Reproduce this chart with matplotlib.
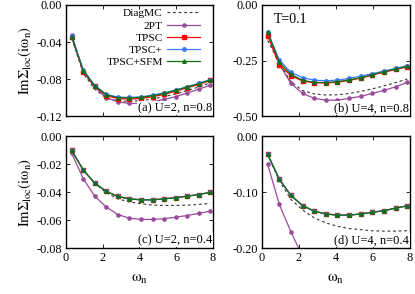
import numpy as np
import matplotlib
matplotlib.use("Agg")
import matplotlib.pyplot as plt

plt.rcParams['font.family'] = ['Liberation Serif', 'DejaVu Serif']
plt.rcParams['mathtext.fontset'] = 'stix'
plt.rcParams['font.size'] = 8.8

# Matsubara frequencies, T=0.1
T = 0.1
wn = [(2 * n + 1) * np.pi * T for n in range(13)]

# panel (a) U=2, n=0.8
a_dmc = [-0.036, -0.074, -0.091, -0.1005, -0.1035, -0.104, -0.1035, -0.1015, -0.099, -0.096, -0.0925, -0.0885, -0.084]
a_2pt = [-0.032, -0.072, -0.089, -0.100, -0.1045, -0.1063, -0.1063, -0.1045, -0.102, -0.099, -0.095, -0.091, -0.0865]
a_tpsc = [-0.035, -0.072, -0.088, -0.098, -0.101, -0.1016, -0.101, -0.099, -0.0966, -0.093, -0.0894, -0.0858, -0.0815]
a_tpscp = [-0.034, -0.070, -0.087, -0.0965, -0.0995, -0.0998, -0.0992, -0.0973, -0.095, -0.0918, -0.0882, -0.0846, -0.0805]
a_sfm = [-0.0345, -0.071, -0.0875, -0.097, -0.1, -0.1004, -0.0998, -0.0978, -0.0955, -0.0922, -0.0886, -0.085, -0.081]

# panel (b) U=4, n=0.8
b_dmc = [-0.16, -0.263, -0.345, -0.385, -0.400, -0.405, -0.404, -0.398, -0.389, -0.377, -0.364, -0.349, -0.333]
b_2pt = [-0.132, -0.267, -0.353, -0.398, -0.42, -0.428, -0.428, -0.42, -0.411, -0.398, -0.384, -0.368, -0.348]
b_tpsc = [-0.138, -0.27, -0.318, -0.342, -0.35, -0.351, -0.347, -0.339, -0.329, -0.315, -0.302, -0.29, -0.278]
b_tpscp = [-0.123, -0.248, -0.303, -0.327, -0.338, -0.341, -0.338, -0.330, -0.320, -0.309, -0.297, -0.285, -0.273]
b_sfm = [-0.12, -0.258, -0.312, -0.339, -0.348, -0.349, -0.345, -0.337, -0.327, -0.313, -0.300, -0.288, -0.276]

# panel (c) U=2, n=0.4
c_dmc = [-0.0102, -0.0243, -0.0338, -0.0405, -0.0448, -0.047, -0.0483, -0.0493, -0.0495, -0.0495, -0.0493, -0.0488, -0.048]
c_2pt = [-0.0124, -0.0305, -0.043, -0.0507, -0.056, -0.0586, -0.0595, -0.0595, -0.059, -0.0579, -0.0567, -0.0552, -0.0536]
c_tpsc = [-0.0102, -0.0243, -0.0336, -0.0395, -0.0431, -0.0448, -0.0455, -0.0455, -0.0448, -0.044, -0.0429, -0.0417, -0.0402]
c_tpscp = c_tpsc
c_sfm = c_tpsc

# panel (d) U=4, n=0.4
d_dmc = [-0.033, -0.08, -0.113, -0.132, -0.146, -0.155, -0.161, -0.165, -0.167, -0.169, -0.1696, -0.1696, -0.169]
d_2pt = [-0.0506, -0.122, -0.171, -0.215, -0.25, -0.28, -0.30, -0.32, -0.33, -0.34, -0.35, -0.355, -0.36]
d_tpsc = [-0.0327, -0.077, -0.106, -0.124, -0.134, -0.139, -0.141, -0.141, -0.139, -0.136, -0.133, -0.1286, -0.1244]
d_tpscp = d_tpsc
d_sfm = d_tpsc

panels = [
    (a_dmc, a_2pt, a_tpsc, a_tpscp, a_sfm, (-0.12, 0.0), [0.0, -0.04, -0.08, -0.12], "(a) U=2, n=0.8"),
    (b_dmc, b_2pt, b_tpsc, b_tpscp, b_sfm, (-0.5, 0.0), [0.0, -0.25, -0.5], "(b) U=4, n=0.8"),
    (c_dmc, c_2pt, c_tpsc, c_tpscp, c_sfm, (-0.08, 0.0), [0.0, -0.02, -0.04, -0.06, -0.08], "(c) U=2, n=0.4"),
    (d_dmc, d_2pt, d_tpsc, d_tpscp, d_sfm, (-0.2, 0.0), [0.0, -0.1, -0.2], "(d) U=4, n=0.4"),
]

rects = [
    [0.159, 0.605, 0.354, 0.378],
    [0.631, 0.605, 0.357, 0.378],
    [0.159, 0.156, 0.354, 0.381],
    [0.631, 0.156, 0.357, 0.381],
]

wlab = r'$\mathrm{\omega_n}$'

fig = plt.figure(figsize=(4.15, 2.94), dpi=100)

for i, (dmc, p2, tp, tpp, sfm, ylim, yt, label) in enumerate(panels):
    ax = fig.add_axes(rects[i])
    ax.plot(wn, dmc, ls=(0, (2.5, 2.5)), color='#333333', lw=0.8, label='DiagMC')
    ax.plot(wn, p2, '-o', color='#9a4a9a', lw=0.9, ms=2.3, label='2PT')
    ax.plot(wn, tp, '-s', color='#ff0000', lw=0.9, ms=2.7, label='TPSC')
    ax.plot(wn, tpp, '-o', color='#3c7cff', lw=0.9, ms=2.5, label='TPSC+')
    ax.plot(wn, sfm, '-^', color='#107010', lw=0.9, ms=2.5, label='TPSC+SFM')
    ax.set_xlim(0, 8)
    ax.set_ylim(*ylim)
    ax.set_yticks(yt)
    ax.set_yticklabels(['%.2f' % v if v != 0 else '0.00' for v in yt])
    ax.set_xticks([0, 2, 4, 6, 8])
    ax.tick_params(direction='in', top=True, right=True, length=3, width=0.6, pad=3)
    for s in ax.spines.values():
        s.set_linewidth(1.0)
    if i < 2:
        ax.set_xticklabels([])
    else:
        ax.set_xlabel(wlab, fontsize=11, labelpad=6)
    if i % 2 == 0:
        ax.set_ylabel(r'$\mathrm{Im\Sigma_{loc}(i\omega_n)}$', fontsize=10.5, labelpad=2)
    ax.text(0.995, 0.02, label, transform=ax.transAxes, ha='right', va='bottom',
            fontsize=9, bbox=dict(facecolor='white', edgecolor='none', pad=0.5))
    if i == 0:
        ax.legend(loc='upper right', bbox_to_anchor=(0.915, 0.97), frameon=False,
                  markerfirst=False, fontsize=8.2, handlelength=2.9, labelspacing=0.2,
                  borderaxespad=0.0, borderpad=0.0, handletextpad=0.4)
    if i == 1:
        ax.text(0.08, 0.93, 'T=0.1', transform=ax.transAxes, ha='left', va='top', fontsize=10)

fig.savefig('out.png', dpi=100)
